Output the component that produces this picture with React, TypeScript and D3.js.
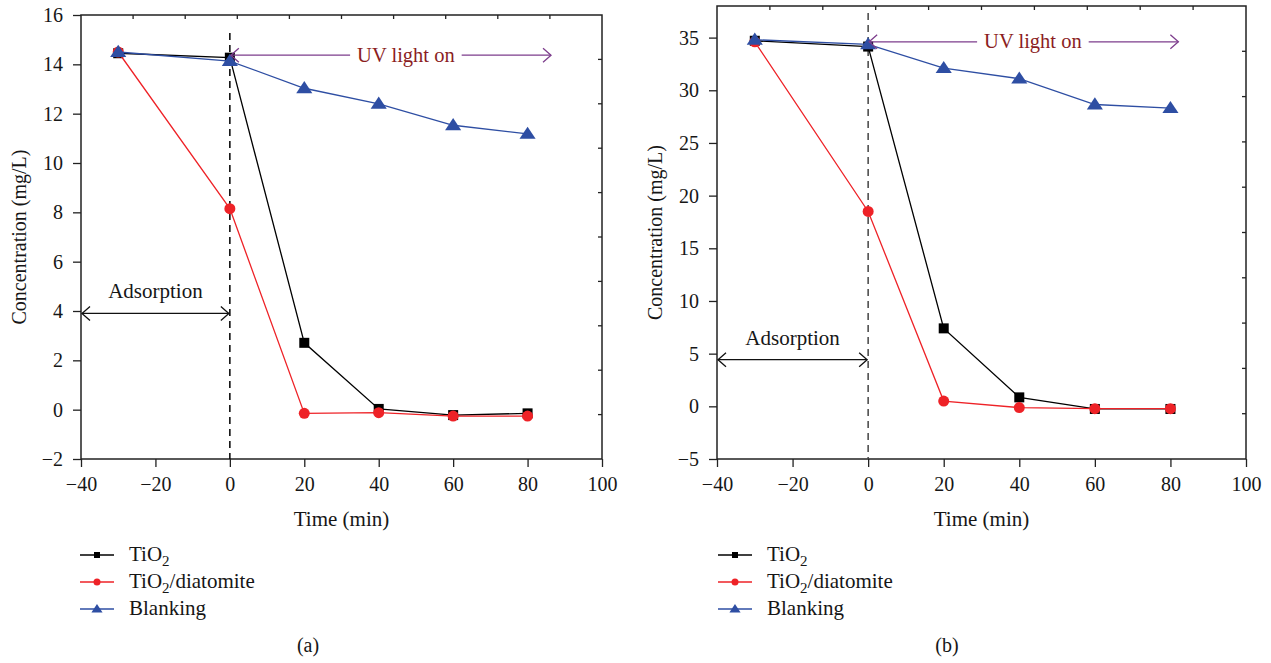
import React, { useEffect, useRef } from "react";
import * as d3 from "d3";

// ---- data ----
const times = [-30, 0, 20, 40, 60, 80];
const tio2A = [14.45, 14.27, 2.71, 0.03, -0.22, -0.15];
const diatA = [14.5, 8.15, -0.15, -0.12, -0.26, -0.26];
const blankA = [14.5, 14.13, 13.03, 12.4, 11.53, 11.18];
const tio2B = [34.7, 34.15, 7.4, 0.85, -0.25, -0.25];
const diatB = [34.6, 18.5, 0.5, -0.12, -0.22, -0.22];
const blankB = [34.8, 34.35, 32.1, 31.1, 28.65, 28.3];
const xTicks = [-40, -20, 0, 20, 40, 60, 80, 100];
const yTicksA = [-2, 0, 2, 4, 6, 8, 10, 12, 14, 16];
const yTicksB = [-5, 0, 5, 10, 15, 20, 25, 30, 35];
const seriesNames = ["TiO2", "TiO2/diatomite", "Blanking"];

const FONT = "'Liberation Serif', 'Times New Roman', serif";
const COLORS = ["#000000", "#ee2227", "#2e4ea3"];
const PURPLE = "#7d3d8c";
const DARKRED = "#8b1d22";
const INK = "#161616";

type Panel = {
  left: number; right: number; top: number; bottom: number;
  yDomain: [number, number]; yTicks: number[];
  data: number[][];
  dashTop: number; dashColor: string;
  uvY: number; uvEnd: number; uvText: number;
  adsY: number;
  legendX: number; tag: string; tagX: number;
};

const panels: Panel[] = [
  {
    left: 81, right: 602, top: 15, bottom: 459,
    yDomain: [-2, 16], yTicks: yTicksA,
    data: [tio2A, diatA, blankA],
    dashTop: 33, dashColor: "#000",
    uvY: 14.37, uvEnd: 86.3, uvText: 47.3,
    adsY: 3.9,
    legendX: 80, tag: "(a)", tagX: 308,
  },
  {
    left: 717, right: 1246, top: 6, bottom: 459,
    yDomain: [-5, 38], yTicks: yTicksB,
    data: [tio2B, diatB, blankB],
    dashTop: 13, dashColor: "#444",
    uvY: 34.6, uvEnd: 82.1, uvText: 43.6,
    adsY: 4.43,
    legendX: 718, tag: "(b)", tagX: 947,
  },
];

function drawMarker(g: any, kind: number, cx: number, cy: number, s: number, color: string) {
  if (kind === 0) {
    g.append("rect").attr("x", cx - s / 2).attr("y", cy - s / 2).attr("width", s).attr("height", s).attr("fill", color);
  } else if (kind === 1) {
    g.append("circle").attr("cx", cx).attr("cy", cy).attr("r", s / 2).attr("fill", color);
  } else {
    const h = s * 0.9;
    g.append("path")
      .attr("d", `M${cx},${cy - h * 0.62}L${cx + s * 0.62},${cy + h * 0.42}L${cx - s * 0.62},${cy + h * 0.42}Z`)
      .attr("fill", color);
  }
}

function chevron(g: any, x: number, y: number, dir: number, color: string) {
  g.append("path")
    .attr("d", `M${x - dir * 8},${y - 7}L${x},${y}L${x - dir * 8},${y + 7}`)
    .attr("fill", "none").attr("stroke", color).attr("stroke-width", 1.3);
}

export default function App() {
  const ref = useRef<SVGSVGElement>(null);
  useEffect(() => {
    const svg = d3.select(ref.current);
    svg.selectAll("*").remove();
    panels.forEach((p) => {
      const g = svg.append("g").attr("font-family", FONT);
      const x = d3.scaleLinear().domain([-40, 100]).range([p.left, p.right]);
      const y = d3.scaleLinear().domain(p.yDomain).range([p.bottom, p.top]);

      // frame
      g.append("rect").attr("x", p.left).attr("y", p.top)
        .attr("width", p.right - p.left).attr("height", p.bottom - p.top)
        .attr("fill", "none").attr("stroke", "#222").attr("stroke-width", 1.5);
      // minor inward ticks on top and right
      for (let i = 1; i < 10; i++) {
        const tx = p.left + ((p.right - p.left) * i) / 10;
        g.append("line").attr("x1", tx).attr("x2", tx).attr("y1", p.top).attr("y2", p.top + 4)
          .attr("stroke", "#222").attr("stroke-width", 1.3);
        const ty = p.top + ((p.bottom - p.top) * i) / 10;
        g.append("line").attr("y1", ty).attr("y2", ty).attr("x1", p.right).attr("x2", p.right - 4)
          .attr("stroke", "#222").attr("stroke-width", 1.3);
      }
      // bottom axis
      const xa = d3.axisBottom(x).tickValues(xTicks).tickSize(8).tickPadding(10)
        .tickFormat((d: any) => (d < 0 ? "\u2212" + Math.abs(d) : String(d)));
      const gx = g.append("g").attr("transform", `translate(0,${p.bottom})`).call(xa);
      gx.select(".domain").remove();
      gx.selectAll("line").attr("stroke", "#222").attr("stroke-width", 1.3);
      gx.selectAll("text").attr("font-size", 20).attr("font-family", FONT).attr("fill", INK);
      // left axis
      const ya = d3.axisLeft(y).tickValues(p.yTicks).tickSize(8).tickPadding(10)
        .tickFormat((d: any) => (d < 0 ? "\u2212" + Math.abs(d) : String(d)));
      const gy = g.append("g").attr("transform", `translate(${p.left},0)`).call(ya);
      gy.select(".domain").remove();
      gy.selectAll("line").attr("stroke", "#222").attr("stroke-width", 1.3);
      gy.selectAll("text").attr("font-size", 20).attr("font-family", FONT).attr("fill", INK);

      // axis titles
      g.append("text").attr("x", (p.left + p.right) / 2).attr("y", 526).attr("text-anchor", "middle")
        .attr("font-size", 21).attr("fill", INK).text("Time (min)");
      g.append("text")
        .attr("transform", `translate(${p.left - 55},${(p.top + p.bottom) / 2}) rotate(-90)`)
        .attr("text-anchor", "middle").attr("font-size", 20).attr("fill", INK)
        .text("Concentration (mg/L)");

      // dashed line at t=0
      g.append("line").attr("x1", x(0)).attr("x2", x(0)).attr("y1", p.dashTop).attr("y2", p.bottom)
        .attr("stroke", p.dashColor).attr("stroke-width", 1.5).attr("stroke-dasharray", "7,5");

      // series
      p.data.forEach((vals, si) => {
        const pts = times.map((t, i) => [x(t), y(vals[i])] as [number, number]);
        g.append("path").attr("d", d3.line()(pts)!).attr("fill", "none")
          .attr("stroke", COLORS[si]).attr("stroke-width", 1.3);
        const mg = g.append("g");
        pts.forEach(([cx, cy]) => drawMarker(mg, si, cx, cy, si === 0 ? 10 : si === 1 ? 11 : 13, COLORS[si]));
      });

      // UV light on arrow
      const uy = y(p.uvY);
      const ut = g.append("text").attr("x", x(p.uvText)).attr("y", uy + 6.5).attr("text-anchor", "middle")
        .attr("font-size", 20.5).attr("fill", DARKRED).text("UV light on");
      const bb = (ut.node() as SVGTextElement).getBBox();
      g.append("line").attr("x1", x(0) + 1).attr("x2", bb.x - 7).attr("y1", uy).attr("y2", uy)
        .attr("stroke", PURPLE).attr("stroke-width", 1.3);
      g.append("line").attr("x1", bb.x + bb.width + 7).attr("x2", x(p.uvEnd)).attr("y1", uy).attr("y2", uy)
        .attr("stroke", PURPLE).attr("stroke-width", 1.3);
      chevron(g, x(0) + 1, uy, -1, PURPLE);
      chevron(g, x(p.uvEnd), uy, 1, PURPLE);

      // Adsorption arrow
      const ay = y(p.adsY);
      g.append("line").attr("x1", x(-40) + 1).attr("x2", x(0) - 1).attr("y1", ay).attr("y2", ay)
        .attr("stroke", "#111").attr("stroke-width", 1.3);
      chevron(g, x(-40) + 1, ay, -1, "#111");
      chevron(g, x(0) - 1, ay, 1, "#111");
      g.append("text").attr("x", x(-20)).attr("y", ay - 15).attr("text-anchor", "middle")
        .attr("font-size", 21).attr("fill", INK).text("Adsorption");

      // legend
      const rows = [555, 582, 609];
      seriesNames.forEach((name, si) => {
        const ry = rows[si];
        g.append("line").attr("x1", p.legendX).attr("x2", p.legendX + 34).attr("y1", ry).attr("y2", ry)
          .attr("stroke", COLORS[si]).attr("stroke-width", 1.3);
        drawMarker(g, si, p.legendX + 17, ry, si === 0 ? 6 : si === 1 ? 7 : 9, COLORS[si]);
        const t = g.append("text").attr("x", p.legendX + 49).attr("y", ry + 6).attr("font-size", 21).attr("fill", INK);
        if (name.startsWith("TiO2")) {
          t.append("tspan").text("TiO");
          t.append("tspan").attr("dy", 5).attr("font-size", 15).text("2");
          const rest = name.slice(4);
          if (rest) t.append("tspan").attr("dy", -5).text(rest);
        } else {
          t.text(name);
        }
      });
      g.append("text").attr("x", p.tagX).attr("y", 652).attr("text-anchor", "middle")
        .attr("font-size", 20).attr("fill", INK).text(p.tag);
    });
  }, []);
  return (
    <svg ref={ref} width={1271} height={663}
      style={{ display: "block", position: "absolute", left: 0, top: 0 }} />
  );
}
